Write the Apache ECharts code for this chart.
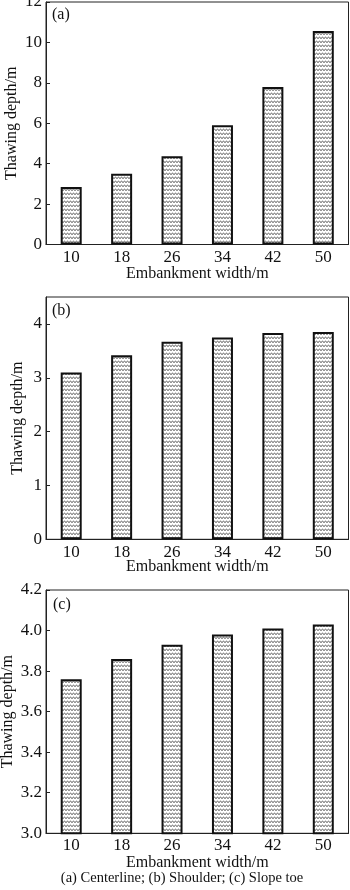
<!DOCTYPE html>
<html>
<head>
<meta charset="utf-8">
<script src="https://cdn.jsdelivr.net/npm/echarts@6/dist/echarts.min.js"></script>
<style>
html,body{margin:0;padding:0;background:#fff;}
#chart{width:350px;height:890px;}
</style>
</head>
<body>
<div id="chart"></div>
<script>
// ---- Data ----
const categories = ['10', '18', '26', '34', '42', '50'];
const centerline = [2.85, 3.5, 4.37, 5.9, 7.8, 10.56];
const shoulder = [3.10, 3.42, 3.67, 3.75, 3.83, 3.85];
const slopeToe = [3.76, 3.86, 3.93, 3.98, 4.01, 4.03];
const panelLabels = ['(a)', '(b)', '(c)'];
const xTitle = 'Embankment width/m';
const yTitle = 'Thawing depth/m';
const caption = '(a) Centerline; (b) Shoulder; (c) Slope toe';
const yRangeA = [0, 12, 2];
const yRangeB = [0, 4.5, 1];
const yRangeC = [3.0, 4.2, 0.2];

// ---- Pattern fill ----
function makePattern() {
  const c = document.createElement('canvas');
  c.width = 6; c.height = 4;
  const g = c.getContext('2d');
  g.fillStyle = '#ffffff';
  g.fillRect(0, 0, 6, 4);
  g.strokeStyle = '#4a4a4a';
  g.lineWidth = 1;
  g.beginPath();
  g.moveTo(0, 2.5);
  g.lineTo(1.5, 1.2);
  g.lineTo(3, 2.5);
  g.lineTo(4.5, 1.2);
  g.lineTo(6, 2.5);
  g.stroke();
  return c;
}
const pattern = { image: makePattern(), repeat: 'repeat' };

const FONT = 'Liberation Serif';
const grids = [
  { left: 46, right: 1.5, top: 2, height: 242.5 },
  { left: 46, right: 1.5, top: 297, height: 242.3 },
  { left: 46, right: 1.5, top: 590, height: 243.3 }
];
const ranges = [yRangeA, yRangeB, yRangeC];
const datas = [centerline, shoulder, slopeToe];
const yGaps = [26, 20, 30];
const xLabelMargins = [5, 5, 4];
const xNameGaps = [21, 19, 21];

const option = {
  animation: false,
  backgroundColor: '#fff',
  textStyle: { fontFamily: FONT, color: '#111' },
  grid: grids.map(g => Object.assign({
    show: true, borderColor: '#222', borderWidth: 1, backgroundColor: 'transparent',
    containLabel: false, outerBoundsMode: 'none'
  }, g)),
  xAxis: grids.map((g, i) => ({
    type: 'category',
    gridIndex: i,
    data: categories,
    name: xTitle,
    nameLocation: 'middle',
    nameGap: xNameGaps[i],
    nameMoveOverlap: false,
    nameTextStyle: { fontFamily: FONT, fontSize: 16, color: '#111' },
    axisLine: { show: true, lineStyle: { color: '#222', width: 1 } },
    axisTick: { show: false },
    axisLabel: { fontFamily: FONT, fontSize: 17, color: '#111', margin: xLabelMargins[i] },
    splitLine: { show: false }
  })),
  yAxis: grids.map((g, i) => ({
    type: 'value',
    gridIndex: i,
    min: ranges[i][0],
    max: ranges[i][1],
    interval: ranges[i][2],
    name: yTitle,
    nameLocation: 'middle',
    nameGap: yGaps[i],
    nameMoveOverlap: false,
    nameTextStyle: { fontFamily: FONT, fontSize: 16, color: '#111' },
    axisLine: { show: true, lineStyle: { color: '#222', width: 1 } },
    axisTick: { show: true, inside: true, length: 4, lineStyle: { color: '#222' } },
    axisLabel: {
      fontFamily: FONT, fontSize: 17, color: '#111', margin: 4,
      showMaxLabel: i === 1 ? false : true,
      formatter: i === 2 ? (v => v.toFixed(1)) : (v => String(v))
    },
    splitLine: { show: false }
  })),
  series: datas.map((d, i) => ({
    type: 'bar',
    xAxisIndex: i,
    yAxisIndex: i,
    data: d,
    barWidth: 21,
    itemStyle: { color: pattern, borderColor: '#111', borderWidth: 2 }
  })),
  graphic: [
    { type: 'text', left: 52, top: 7, style: { text: panelLabels[0], font: '16px "Liberation Serif"', fill: '#111' } },
    { type: 'text', left: 52, top: 303, style: { text: panelLabels[1], font: '16px "Liberation Serif"', fill: '#111' } },
    { type: 'text', left: 53, top: 597, style: { text: panelLabels[2], font: '16px "Liberation Serif"', fill: '#111' } },
    { type: 'text', x: 182, y: 878, style: { text: caption, font: '14.5px "Liberation Serif"', fill: '#111', textAlign: 'center', textVerticalAlign: 'middle' } }
  ]
};

const chart = echarts.init(document.getElementById('chart'), null, { renderer: 'canvas' });
chart.setOption(option);
</script>
</body>
</html>
